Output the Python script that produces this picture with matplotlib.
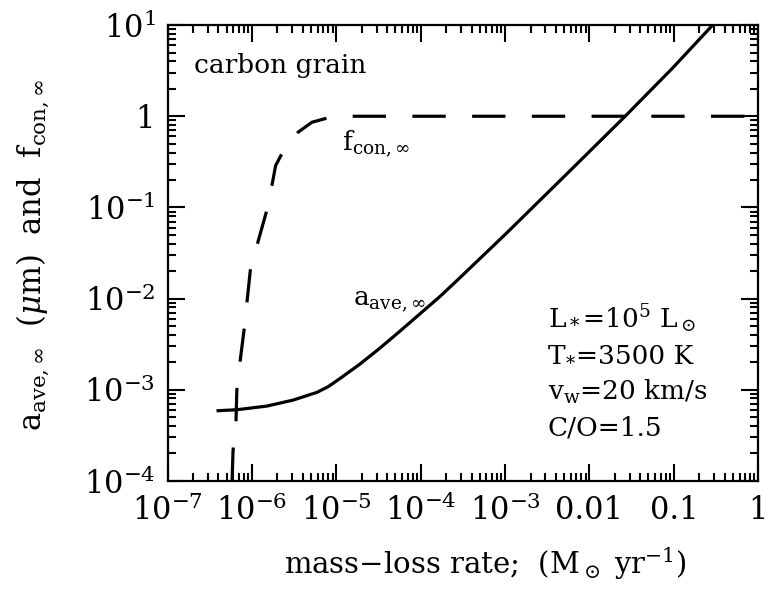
import numpy as np
import matplotlib
matplotlib.use("Agg")
import matplotlib.pyplot as plt
from matplotlib.ticker import FuncFormatter, LogLocator, NullFormatter

plt.rcParams['font.family'] = 'DejaVu Serif'
plt.rcParams['mathtext.fontset'] = 'dejavuserif'
plt.rcParams['lines.scale_dashes'] = False

# a_ave,inf (micron) vs mass-loss rate (log10 values)
log_mdot_a = [-6.402, -6.178, -5.822, -5.515, -5.231, -5.097, -4.959, -4.722,
              -4.485, -4.249, -4.012, -3.775, -3.562, -2.986, -2.198, -1.586,
              -1.014, -0.541]
log_a = [-3.231, -3.220, -3.180, -3.115, -3.030, -2.967, -2.879, -2.720,
         -2.545, -2.360, -2.170, -1.980, -1.795, -1.285, -0.568, -0.008,
         0.530, 1.000]

# f_con,inf vs mass-loss rate (log10 values)
log_mdot_f = [-6.236, -6.225, -6.19, -6.18, -6.14, -6.095, -6.06, -6.02,
              -5.93, -5.83, -5.76, -5.72, -5.645, -5.455, -5.29, -5.11, -4.9, 0.0]
log_f = [-4.0, -3.67, -3.36, -3.01, -2.68, -2.35, -2.04, -1.69,
         -1.38, -1.05, -0.74, -0.54, -0.41, -0.176, -0.066, -0.02, 0.0, 0.0]

fig = plt.figure(figsize=(7.69, 5.98), dpi=100)
ax = fig.add_axes([0.218, 0.196, 0.768, 0.762])

ax.plot(10**np.array(log_mdot_a), 10**np.array(log_a), color='black', lw=2.3)
ax.plot(10**np.array(log_mdot_f), 10**np.array(log_f), color='black', lw=2.3,
        dashes=(24, 19))

ax.set_xscale('log')
ax.set_yscale('log')
ax.set_xlim(1e-7, 1)
ax.set_ylim(1e-4, 10)


def xfmt(v, pos):
    e = int(round(np.log10(v)))
    if e == 0:
        return '1'
    if e == -1:
        return '0.1'
    if e == -2:
        return '0.01'
    return r'$10^{%d}$' % e


def yfmt(v, pos):
    e = int(round(np.log10(v)))
    if e == 0:
        return '1'
    return r'$10^{%d}$' % e


ax.xaxis.set_major_locator(LogLocator(base=10, numticks=20))
ax.yaxis.set_major_locator(LogLocator(base=10, numticks=20))
ax.xaxis.set_minor_locator(LogLocator(base=10, subs=np.arange(2, 10), numticks=20))
ax.yaxis.set_minor_locator(LogLocator(base=10, subs=np.arange(2, 10), numticks=20))
ax.xaxis.set_major_formatter(FuncFormatter(xfmt))
ax.yaxis.set_major_formatter(FuncFormatter(yfmt))
ax.xaxis.set_minor_formatter(NullFormatter())
ax.yaxis.set_minor_formatter(NullFormatter())

ax.tick_params(which='both', direction='in', top=True, right=True, width=1.5)
ax.tick_params(which='major', length=12, labelsize=22)
ax.tick_params(axis='x', which='major', pad=10)
ax.tick_params(axis='y', which='major', pad=9)
ax.tick_params(which='minor', length=6)
for s in ax.spines.values():
    s.set_linewidth(1.6)

ax.set_xlabel(r'mass$-$loss rate;  (M$_\odot$ yr$^{-1}$)', fontsize=21)
ax.xaxis.set_label_coords(0.538, -0.142)
ax.set_ylabel(r'a$_{\rm ave,\infty}$  ($\mu$m)  and  f$_{\rm con,\infty}$', fontsize=22)
ax.yaxis.set_label_coords(-0.196, 0.496)

ax.text(0.044, 0.912, 'carbon grain', transform=ax.transAxes, fontsize=19,
        va='center')
ax.text(1.15e-5, 0.42, r'f$_{\rm con,\infty}$', fontsize=19, va='baseline')
ax.text(1.57e-5, 8.4e-3, r'a$_{\rm ave,\infty}$', fontsize=19, va='baseline')

# stellar / wind parameters
px = 3.18e-3
py = [10**(-2.33 - 0.39 * i) for i in range(4)]
ax.text(px, py[0], r'L$_*$=10$^5$ L$_\odot$', fontsize=19, va='baseline')
t_T = ax.text(px, py[1], 'T', fontsize=19, va='baseline')
ax.annotate('*', xy=(1, 0), xycoords=t_T, xytext=(0.5, 0),
            textcoords='offset points', fontsize=13, va='baseline')
ax.annotate('=3500 K', xy=(1, 0), xycoords=t_T, xytext=(7.5, 0),
            textcoords='offset points', fontsize=19, va='bottom')
ax.text(px, py[2], r'v$_{\rm w}$=20 km/s', fontsize=19, va='baseline')
ax.text(px, py[3], 'C/O=1.5', fontsize=19, va='baseline')

fig.savefig('out.png', dpi=100)
